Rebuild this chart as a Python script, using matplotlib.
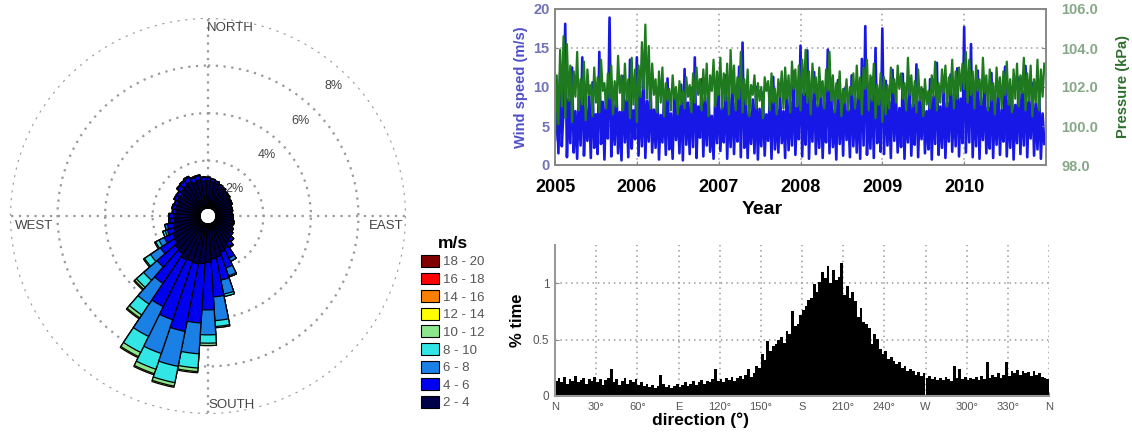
import numpy as np
import matplotlib
matplotlib.use('Agg')
import matplotlib.pyplot as plt
from matplotlib.patches import Patch

plt.rcParams['font.family'] = ['Liberation Sans', 'DejaVu Sans']

# ---------------- wind rose data (percent of time) ----------------
rose_bin_width_deg = 7.5
rose_dir_deg = [0, 7.5, 15, 22.5, 30, 37.5, 45, 52.5, 60, 67.5, 75, 82.5,
                90, 97.5, 105, 112.5, 120, 127.5, 135, 142.5, 150, 157.5, 165, 172.5,
                180, 187.5, 195, 202.5, 210, 217.5, 225, 232.5, 240, 247.5, 255, 262.5,
                270, 277.5, 285, 292.5, 300, 307.5, 315, 322.5, 330, 337.5, 345, 352.5]
speed_labels = ['2 - 4', '4 - 6', '6 - 8', '8 - 10', '10 - 12', '12 - 14',
                '14 - 16', '16 - 18', '18 - 20']
speed_colors = ['#000048', '#0000f0', '#1a80e6', '#33e6e6', '#8ce68c', '#ffff00',
                '#ff8000', '#ff0000', '#800000']
rose_2_4 = [1.15, 1.10, 1.07, 0.98, 0.94, 0.86, 0.85, 0.78, 0.76, 0.69, 0.69, 0.64,
            0.69, 0.68, 0.74, 0.72, 0.79, 0.83, 0.96, 1.03, 1.20, 1.28, 1.42, 1.48,
            1.62, 1.68, 1.72, 1.68, 1.72, 1.58, 1.52, 1.38, 1.32, 1.18, 1.17, 1.08,
            1.12, 1.03, 1.07, 1.02, 1.10, 1.09, 1.20, 1.22, 1.28, 1.19, 1.23, 1.15]
rose_4_6 = [0.13, 0.11, 0.09, 0.09, 0.07, 0.06, 0.05, 0.05, 0.05, 0.04, 0.04, 0.04,
            0.04, 0.05, 0.06, 0.06, 0.07, 0.09, 0.13, 0.20, 0.45, 0.70, 1.00, 1.60,
            2.00, 2.50, 2.90, 2.60, 2.20, 1.50, 1.00, 0.70, 0.40, 0.30, 0.25, 0.20,
            0.17, 0.13, 0.13, 0.13, 0.15, 0.16, 0.19, 0.21, 0.21, 0.19, 0.17, 0.15]
rose_6_8 = [0.02, 0.02, 0.01, 0.01, 0.01, 0.01, 0.0, 0.0, 0.0, 0.0, 0.0, 0.0,
            0.0, 0.0, 0.0, 0.0, 0.0, 0.01, 0.02, 0.05, 0.15, 0.35, 0.60, 1.00,
            1.05, 1.30, 1.50, 1.50, 1.40, 1.05, 0.75, 0.50, 0.25, 0.10, 0.10, 0.05,
            0.03, 0.02, 0.02, 0.02, 0.02, 0.02, 0.03, 0.04, 0.04, 0.04, 0.03, 0.02]
rose_8_10 = [0.0, 0.0, 0.0, 0.0, 0.0, 0.0, 0.0, 0.0, 0.0, 0.0, 0.0, 0.0,
             0.0, 0.0, 0.0, 0.0, 0.0, 0.0, 0.0, 0.0, 0.0, 0.05, 0.10, 0.25,
             0.35, 0.60, 0.70, 0.70, 0.75, 0.55, 0.40, 0.30, 0.15, 0.10, 0.0, 0.0,
             0.0, 0.0, 0.0, 0.0, 0.0, 0.0, 0.0, 0.0, 0.0, 0.0, 0.0, 0.0]
rose_10_12 = [0.0, 0.0, 0.0, 0.0, 0.0, 0.0, 0.0, 0.0, 0.0, 0.0, 0.0, 0.0,
              0.0, 0.0, 0.0, 0.0, 0.0, 0.0, 0.0, 0.0, 0.0, 0.0, 0.0, 0.05,
              0.10, 0.15, 0.15, 0.20, 0.20, 0.15, 0.10, 0.05, 0.05, 0.0, 0.0, 0.0,
              0.0, 0.0, 0.0, 0.0, 0.0, 0.0, 0.0, 0.0, 0.0, 0.0, 0.0, 0.0]
rose_12_14 = [0.0, 0.0, 0.0, 0.0, 0.0, 0.0, 0.0, 0.0, 0.0, 0.0, 0.0, 0.0,
              0.0, 0.0, 0.0, 0.0, 0.0, 0.0, 0.0, 0.0, 0.0, 0.0, 0.0, 0.0,
              0.0, 0.05, 0.05, 0.05, 0.05, 0.05, 0.05, 0.0, 0.0, 0.0, 0.0, 0.0,
              0.0, 0.0, 0.0, 0.0, 0.0, 0.0, 0.0, 0.0, 0.0, 0.0, 0.0, 0.0]
rose_14_16 = [0.0] * 48
rose_16_18 = [0.0] * 48
rose_18_20 = [0.0] * 48
rose_rings = [2, 4, 6, 8]
rose_ring_labels = ['2%', '4%', '6%', '8%']
compass_labels = ['NORTH', 'EAST', 'SOUTH', 'WEST']

# ---------------- time series data ----------------
ts_years = [2005, 2006, 2007, 2008, 2009, 2010]
samples_per_year = 48
wind_speed = [
    # 2005
    3.2, 9.5, 1.5, 11.8, 2.4, 7.2, 18.1, 1.0, 8.4, 2.8, 12.5, 1.6, 6.9, 0.8, 9.1, 2.5,
    13.8, 1.2, 7.4, 3.1, 8.8, 0.9, 10.6, 2.2, 6.5, 1.4, 14.5, 2.7, 8.1, 0.7, 9.6, 3.4,
    18.9, 1.1, 7.7, 2.6, 10.2, 1.5, 6.8, 0.6, 11.4, 2.9, 8.3, 1.0, 13.5, 2.1, 7.0, 3.3,
    # 2006
    13.8, 1.2, 9.4, 2.4, 11.6, 0.9, 8.2, 3.0, 10.8, 1.6, 7.1, 2.2, 9.7, 0.7, 6.4, 2.9,
    8.9, 1.3, 11.1, 2.0, 6.6, 0.8, 9.2, 3.2, 7.8, 1.5, 10.3, 0.6, 12.3, 2.6, 8.0, 1.4,
    9.9, 2.3, 13.8, 0.9, 7.5, 3.5, 11.0, 1.1, 8.6, 2.5, 10.1, 1.7, 6.3, 0.8, 9.0, 2.8,
    # 2007
    9.8, 1.8, 7.3, 2.9, 11.5, 0.8, 8.7, 2.3, 10.4, 1.4, 7.9, 3.0, 12.6, 1.0, 15.7, 2.2,
    9.1, 0.9, 6.8, 2.7, 8.4, 1.5, 10.0, 0.7, 7.2, 2.4, 9.3, 1.2, 6.5, 3.1, 8.8, 0.8,
    11.3, 2.0, 7.6, 1.6, 9.5, 2.8, 6.9, 0.9, 10.7, 1.9, 8.1, 2.5, 12.0, 1.3, 7.4, 3.3,
    # 2008
    15.3, 1.1, 9.2, 2.6, 14.7, 0.8, 8.5, 3.0, 11.9, 1.4, 7.7, 2.2, 10.6, 0.9, 8.0, 2.9,
    14.8, 1.5, 9.6, 2.3, 7.1, 0.7, 10.9, 2.7, 8.3, 1.2, 9.8, 3.2, 7.0, 1.0, 11.5, 2.4,
    8.7, 1.6, 10.2, 0.8, 13.6, 2.5, 17.8, 1.3, 9.0, 2.1, 11.2, 0.9, 15.0, 2.8, 8.4, 1.7,
    # 2009
    17.5, 1.4, 10.8, 2.5, 8.1, 0.9, 12.2, 3.1, 9.4, 1.6, 7.3, 2.3, 11.7, 0.8, 8.6, 2.9,
    10.1, 1.2, 7.8, 2.6, 12.9, 1.0, 8.2, 3.3, 9.7, 1.5, 6.9, 2.0, 11.0, 0.7, 8.8, 2.7,
    13.1, 1.3, 7.5, 2.2, 10.4, 0.9, 8.0, 3.0, 11.6, 1.7, 9.1, 2.4, 12.4, 1.1, 8.5, 2.8,
    # 2010
    17.7, 1.6, 11.3, 2.9, 15.5, 1.0, 9.2, 2.4, 12.1, 0.8, 8.6, 3.2, 10.7, 1.5, 7.4, 2.1,
    11.8, 0.9, 8.9, 2.6, 9.8, 1.3, 7.1, 3.0, 12.6, 1.1, 8.3, 2.2, 10.0, 0.7, 7.7, 2.8,
    11.2, 1.4, 9.5, 2.5, 12.7, 1.0, 8.1, 3.4, 10.5, 1.2, 7.9, 2.0, 9.3, 0.8, 6.6, 2.7,
]
pressure_kpa = [
    # 2005
    99.4, 102.6, 100.1, 103.9, 101.0, 104.6, 100.4, 104.2, 101.3, 103.1, 100.2, 102.8,
    101.5, 103.8, 100.8, 102.4, 101.1, 103.3, 100.3, 102.9, 101.6, 102.1, 100.5, 103.0,
    101.2, 102.5, 100.7, 103.4, 101.8, 102.2, 100.9, 102.7, 101.4, 103.1, 100.6, 102.3,
    101.0, 103.6, 101.7, 102.6, 100.8, 103.2, 101.3, 102.4, 100.4, 103.5, 101.1, 102.9,
    # 2006
    100.2, 103.1, 101.5, 104.3, 101.9, 105.2, 101.4, 104.1, 100.9, 103.2, 101.6, 102.4,
    100.7, 102.8, 101.2, 103.0, 100.5, 102.2, 101.3, 101.9, 100.8, 102.6, 101.4, 102.0,
    100.6, 102.3, 101.1, 101.8, 100.9, 102.5, 101.5, 102.1, 100.7, 102.7, 101.2, 103.0,
    101.6, 102.4, 100.8, 102.9, 101.3, 103.2, 100.5, 102.6, 101.8, 103.4, 101.0, 102.8,
    # 2007
    101.6, 103.5, 100.9, 102.7, 101.3, 103.2, 100.6, 103.9, 101.7, 103.1, 100.8, 102.5,
    101.4, 103.8, 100.7, 102.4, 101.1, 102.9, 100.5, 102.1, 101.6, 102.6, 100.9, 102.2,
    101.3, 102.0, 100.4, 102.5, 101.8, 102.3, 100.8, 102.7, 101.2, 101.9, 100.6, 102.4,
    101.5, 102.8, 100.9, 103.0, 101.4, 102.6, 100.7, 103.3, 101.9, 102.9, 101.0, 103.1,
    # 2008
    100.8, 103.4, 101.6, 103.9, 101.2, 102.8, 100.6, 103.2, 101.7, 102.5, 101.0, 103.0,
    101.5, 102.3, 100.9, 102.9, 101.8, 103.8, 101.3, 102.6, 100.7, 102.2, 101.4, 102.8,
    100.5, 101.9, 101.2, 102.4, 100.8, 102.0, 101.6, 102.7, 100.9, 103.1, 101.4, 102.5,
    100.6, 103.0, 101.9, 103.4, 100.8, 102.6, 101.3, 103.2, 100.4, 102.1, 101.1, 102.7,
    # 2009
    100.2, 102.5, 100.6, 102.1, 100.9, 103.0, 101.7, 102.4, 101.2, 103.1, 101.9, 102.7,
    101.4, 102.2, 100.8, 103.5, 101.6, 102.6, 101.0, 102.3, 100.7, 102.9, 101.3, 102.0,
    100.5, 102.4, 101.1, 101.8, 100.9, 102.6, 101.5, 103.3, 100.8, 102.2, 101.2, 102.9,
    101.7, 103.1, 101.0, 102.5, 101.6, 103.4, 100.9, 102.8, 101.4, 103.0, 101.8, 103.2,
    # 2010
    101.9, 103.8, 101.2, 103.4, 101.6, 102.8, 100.9, 103.1, 101.8, 102.4, 101.1, 103.5,
    101.7, 102.6, 100.8, 102.9, 101.3, 102.2, 100.6, 103.0, 101.5, 102.5, 100.9, 102.8,
    101.6, 103.3, 101.1, 102.4, 100.7, 102.9, 101.4, 103.2, 101.0, 102.6, 101.7, 103.5,
    100.8, 102.7, 101.3, 103.1, 100.5, 102.4, 101.2, 103.4, 100.8, 102.9, 101.5, 103.2,
]
wind_ticks = [0, 5, 10, 15, 20]
pressure_ticks = [98, 100, 102, 104, 106]

# ---------------- direction histogram (2-degree bins, % time) ----------------
hist_bin_deg = 2
hist_pct = [
    0.13, 0.16, 0.12, 0.17, 0.11, 0.15, 0.13, 0.18, 0.12, 0.14,
    0.16, 0.11, 0.15, 0.13, 0.17, 0.12, 0.15, 0.10, 0.14, 0.16,
    0.24, 0.12, 0.15, 0.10, 0.13, 0.16, 0.11, 0.14, 0.12, 0.15,
    0.10, 0.12, 0.09, 0.11, 0.08, 0.10, 0.07, 0.09, 0.19, 0.11,
    0.08, 0.10, 0.07, 0.09, 0.11, 0.08, 0.10, 0.12, 0.09, 0.11,
    0.13, 0.10, 0.12, 0.14, 0.11, 0.13, 0.12, 0.15, 0.24, 0.13,
    0.15, 0.12, 0.16, 0.14, 0.17, 0.13, 0.16, 0.18, 0.15, 0.19,
    0.24, 0.17, 0.20, 0.27, 0.25, 0.37, 0.32, 0.49, 0.40, 0.44,
    0.46, 0.50, 0.52, 0.47, 0.58, 0.55, 0.75, 0.62, 0.64, 0.72,
    0.76, 0.80, 0.85, 0.87, 0.99, 0.92, 1.01, 1.10, 1.05, 1.15,
    1.00, 1.12, 1.03, 1.06, 1.18, 0.90, 0.98, 0.87, 0.92, 0.84,
    0.70, 0.78, 0.66, 0.64, 0.60, 0.46, 0.55, 0.51, 0.42, 0.37,
    0.40, 0.33, 0.35, 0.31, 0.28, 0.30, 0.25, 0.27, 0.22, 0.24,
    0.22, 0.19, 0.21, 0.18, 0.20, 0.16, 0.18, 0.15, 0.17, 0.14,
    0.16, 0.14, 0.17, 0.15, 0.13, 0.27, 0.16, 0.24, 0.15, 0.17,
    0.14, 0.16, 0.15, 0.17, 0.14, 0.18, 0.15, 0.30, 0.16, 0.19,
    0.17, 0.20, 0.16, 0.19, 0.30, 0.18, 0.22, 0.20, 0.23, 0.19,
    0.22, 0.20, 0.21, 0.18, 0.22, 0.19, 0.20, 0.17, 0.16, 0.15,
]
dir_ticks = [0, 30, 60, 90, 120, 150, 180, 210, 240, 270, 300, 330, 360]
dir_tick_labels = ['N', '30°', '60°', 'E', '120°', '150°', 'S', '210°', '240°',
                   'W', '300°', '330°', 'N']

# =====================================================================
W, H = 1132, 432
fig = plt.figure(figsize=(W / 100, H / 100), dpi=100)


def fx(px):
    return px / W


def fy(py):
    return 1 - py / H


dot = (0, (1, 2.5))
gridc = '#999999'

# ---------------- wind rose ----------------
cx, cy, R = 208, 216, 198
axr = fig.add_axes([fx(cx - R), fy(cy + R), 2 * R / W, 2 * R / H], projection='polar')
axr.set_theta_zero_location('N')
axr.set_theta_direction(-1)
theta = np.deg2rad(rose_dir_deg)
width = np.deg2rad(rose_bin_width_deg)
series = [rose_2_4, rose_4_6, rose_6_8, rose_8_10, rose_10_12, rose_12_14,
          rose_14_16, rose_16_18, rose_18_20]
cum = np.cumsum(np.array(series, dtype=float), axis=0)
# draw outermost cumulative first so the inner speed classes sit on top
for k in range(len(series) - 1, -1, -1):
    if np.asarray(series[k]).sum() > 0:
        axr.bar(theta, cum[k], width=width, bottom=0.0, facecolor=speed_colors[k],
                edgecolor='black', linewidth=0.9, zorder=10 - k)
axr.set_rlim(0, 8)
axr.set_rorigin(-0.33)
axr.set_rgrids(rose_rings, labels=[''] * 4)
axr.set_thetagrids([0, 90, 180, 270], labels=[''] * 4)
axr.grid(True, color=gridc, linestyle=dot, linewidth=1.6)
axr.spines['polar'].set_visible(False)
axr.set_axisbelow(True)
axr.tick_params(length=0)
for r, lab in zip(rose_rings, rose_ring_labels):
    axr.text(np.deg2rad(44), r - 0.75, lab, fontsize=9, color='#444',
             ha='center', va='center', zorder=20)
axr.text(0.498, 0.975, compass_labels[0], transform=axr.transAxes, fontsize=9.5,
         color='#444', ha='left', va='center')
axr.text(0.5, 0.022, compass_labels[2], transform=axr.transAxes, fontsize=9.5,
         color='#444', ha='left', va='center')
axr.text(0.012, 0.475, compass_labels[3], transform=axr.transAxes, fontsize=9.5,
         color='#444', ha='left', va='center')
axr.text(0.993, 0.475, compass_labels[1], transform=axr.transAxes, fontsize=9.5,
         color='#444', ha='right', va='center')

# legend (top to bottom: high speeds first)
handles = [Patch(facecolor=c, edgecolor='black', linewidth=0.8)
           for c in speed_colors][::-1]
leg = fig.legend(handles, speed_labels[::-1], loc='upper left',
                 bbox_to_anchor=(fx(418), fy(233)), frameon=False,
                 fontsize=9.5, title='m/s',
                 title_fontproperties={'weight': 'bold', 'size': 12.5},
                 handlelength=1.4, handleheight=1.0, handletextpad=0.3,
                 labelspacing=0.32, borderpad=0.2, borderaxespad=0)
for t in leg.get_texts():
    t.set_color('#555')

# ---------------- time series ----------------
L, Rr, T, B = 555, 1046, 9, 165
ax1 = fig.add_axes([fx(L), fy(B), (Rr - L) / W, (B - T) / H])
t_years = ts_years[0] + np.arange(len(wind_speed)) / samples_per_year
ax1.plot(t_years, wind_speed, color='#1818e6', linewidth=1.9)
ax1.set_xlim(ts_years[0], ts_years[-1] + 1)
ax1.set_ylim(wind_ticks[0], wind_ticks[-1])
ax1.set_xticks(ts_years)
ax1.set_xticklabels([str(y) for y in ts_years], fontsize=13, fontweight='bold')
ax1.set_yticks(wind_ticks)
ax1.set_yticklabels([str(v) for v in wind_ticks], fontsize=10.5, fontweight='bold',
                    color='#7272b8')
ax1.set_xlabel('Year', fontsize=14, fontweight='bold')
ax1.xaxis.set_label_coords((762 - L) / (Rr - L), -(201 - B) / (B - T))
ax1.set_ylabel('Wind speed (m/s)', fontsize=10.5, fontweight='bold', color='#5050c8',
               labelpad=4)
ax1.grid(True, color=gridc, linestyle=dot, linewidth=1.1)
ax1.tick_params(axis='y', direction='in', length=3, color='#888', pad=4)
ax1.tick_params(axis='x', direction='in', length=3, color='#888', pad=10)
for s in ax1.spines.values():
    s.set_color('#888')
    s.set_linewidth(1.2)

ax2 = ax1.twinx()
ax2.plot(t_years, pressure_kpa, color='#1f7a1f', linewidth=1.6)
ax2.set_ylim(pressure_ticks[0], pressure_ticks[-1])
ax2.set_yticks(pressure_ticks)
ax2.set_yticklabels(['%.1f' % v for v in pressure_ticks], fontsize=10.5,
                    fontweight='bold', color='#86a886')
ax2.set_ylabel('Pressure (kPa)', fontsize=10.5, fontweight='bold', color='#2f6f2f',
               labelpad=13)
ax2.tick_params(direction='in', length=3, color='#888', pad=11)
for s in ax2.spines.values():
    s.set_color('#888')
    s.set_linewidth(1.2)

# ---------------- direction histogram ----------------
L3, R3, T3, B3 = 555, 1049, 245, 396
ax3 = fig.add_axes([fx(L3), fy(B3), (R3 - L3) / W, (B3 - T3) / H])
centers = np.arange(len(hist_pct)) * hist_bin_deg + hist_bin_deg / 2
ax3.bar(centers, hist_pct, width=hist_bin_deg, color='black', linewidth=0)
ax3.set_xlim(dir_ticks[0], dir_ticks[-1])
ax3.set_ylim(0, 1.34)
ax3.set_xticks(dir_ticks)
ax3.set_xticklabels(dir_tick_labels, fontsize=8, color='#555')
ax3.set_yticks([0, 0.5, 1])
ax3.set_yticklabels(['0', '0.5', '1'], fontsize=8.5, color='#555')
ax3.grid(True, color=gridc, linestyle=dot, linewidth=1.1)
ax3.set_axisbelow(True)
ax3.tick_params(direction='in', length=3, color='#888', pad=4)
for side in ['top', 'right']:
    ax3.spines[side].set_visible(False)
for side in ['left', 'bottom']:
    ax3.spines[side].set_color('#999')
    ax3.spines[side].set_linewidth(1.5)
ax3.set_xlabel('direction (°)', fontsize=12.5, fontweight='bold')
ax3.xaxis.set_label_coords((700 - L3) / (R3 - L3), -(412 - B3) / (B3 - T3))
ax3.set_ylabel('% time', fontsize=12, fontweight='bold', labelpad=6)

fig.savefig('out.png', dpi=100)
